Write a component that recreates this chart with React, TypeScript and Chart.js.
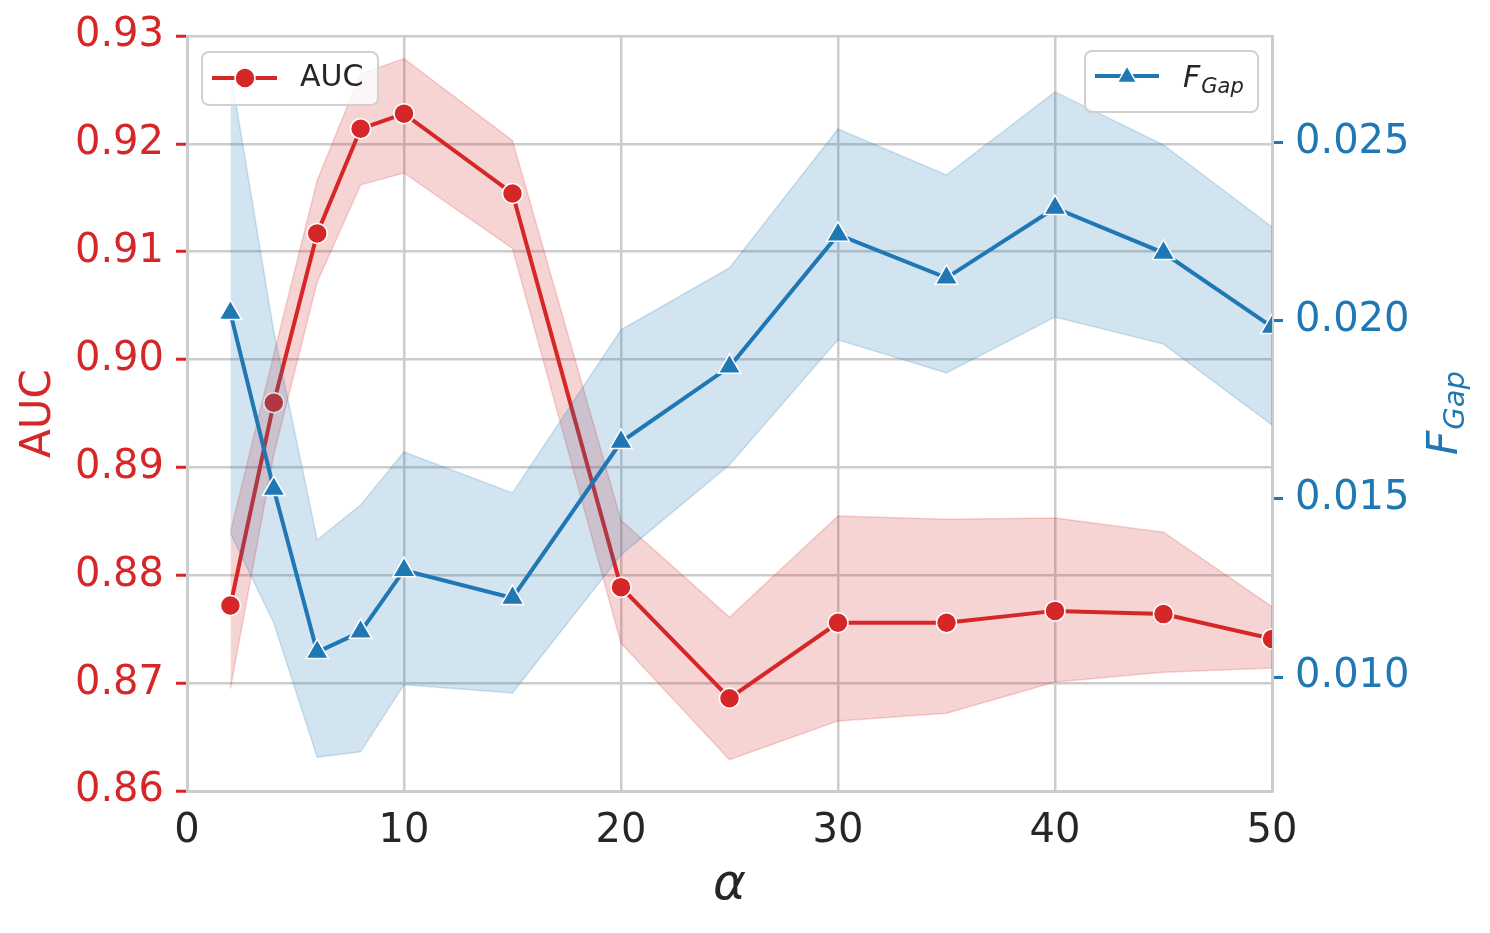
import { useEffect, useRef } from "react"
import { Chart, registerables } from "chart.js"

Chart.register(...registerables)

const RED = "#d62728"
const BLUE = "#1f77b4"
const TEXT = "#262626"
const GRID = "#cccccc"
const FONT = '"DejaVu Sans", sans-serif'

// alpha values on the x axis
const alphas = [2, 4, 6, 8, 10, 15, 20, 25, 30, 35, 40, 45, 50]

// AUC (left axis) mean and band
const aucMean = [0.8772, 0.8960, 0.9117, 0.9214, 0.9228, 0.9154, 0.8789, 0.8686, 0.8756, 0.8756, 0.8767, 0.8764, 0.8741]
const aucUpper = [0.8840, 0.9005, 0.9166, 0.9265, 0.9279, 0.9203, 0.8851, 0.8761, 0.8855, 0.8852, 0.8853, 0.8840, 0.8771]
const aucLower = [0.8695, 0.8912, 0.9072, 0.9162, 0.9173, 0.9103, 0.8737, 0.8629, 0.8665, 0.8672, 0.8701, 0.8710, 0.8714]

// F_Gap (right axis) mean and band
const fgapMean = [0.02022, 0.01528, 0.01070, 0.01127, 0.01300, 0.01222, 0.01660, 0.01871, 0.02242, 0.02121, 0.02317, 0.02191, 0.01983]
const fgapUpper = [0.02705, 0.01970, 0.01385, 0.01483, 0.01632, 0.01517, 0.01975, 0.02149, 0.02539, 0.02410, 0.02643, 0.02494, 0.02264]
const fgapLower = [0.01404, 0.01152, 0.00775, 0.00790, 0.00978, 0.00955, 0.01343, 0.01596, 0.01947, 0.01854, 0.02011, 0.01935, 0.01708]

// tick labels
const xTicks = [0, 10, 20, 30, 40, 50]
const aucTicks = [0.86, 0.87, 0.88, 0.89, 0.90, 0.91, 0.92, 0.93]
const fgapTicks = [0.010, 0.015, 0.020, 0.025]

const pts = (ys: number[]) => alphas.map((x, i) => ({ x, y: ys[i] }))

function drawTriangle(ctx: CanvasRenderingContext2D, x: number, y: number, r: number) {
  ctx.beginPath()
  ctx.moveTo(x, y - r)
  ctx.lineTo(x - r * 0.866, y + r * 0.5)
  ctx.lineTo(x + r * 0.866, y + r * 0.5)
  ctx.closePath()
  ctx.fillStyle = BLUE
  ctx.fill()
  ctx.strokeStyle = "#fff"
  ctx.lineWidth = 1.5
  ctx.stroke()
}

function legendBox(ctx: CanvasRenderingContext2D, x: number, y: number, w: number, h: number) {
  ctx.beginPath()
  ctx.roundRect(x, y, w, h, 7)
  ctx.fillStyle = "rgba(255,255,255,0.8)"
  ctx.fill()
  ctx.strokeStyle = "#d0d0d0"
  ctx.lineWidth = 2
  ctx.stroke()
}

// axis titles and the two legends
const overlay = {
  id: "overlay",
  afterDraw(chart: Chart) {
    const ctx = chart.ctx
    const { left, right, top, bottom } = chart.chartArea
    const midY = (top + bottom) / 2

    ctx.save()
    // left title
    ctx.translate(left - 148, midY)
    ctx.rotate(-Math.PI / 2)
    ctx.font = `42px ${FONT}`
    ctx.fillStyle = RED
    ctx.textAlign = "center"
    ctx.textBaseline = "middle"
    ctx.fillText("AUC", 0, 0)
    ctx.restore()

    // right title F_Gap
    ctx.save()
    ctx.translate(right + 170, midY)
    ctx.rotate(-Math.PI / 2)
    ctx.fillStyle = BLUE
    ctx.textBaseline = "alphabetic"
    ctx.font = `italic 42px ${FONT}`
    const wF = ctx.measureText("F").width
    ctx.font = `italic 29px ${FONT}`
    const wG = ctx.measureText("Gap").width
    const sx = -(wF + wG) / 2
    ctx.font = `italic 42px ${FONT}`
    ctx.fillText("F", sx, 15)
    ctx.font = `italic 29px ${FONT}`
    ctx.fillText("Gap", sx + wF + 1, 22)
    ctx.restore()

    // x title
    ctx.save()
    ctx.font = `italic 50px ${FONT}`
    ctx.fillStyle = TEXT
    ctx.textAlign = "center"
    ctx.textBaseline = "middle"
    ctx.fillText("α", (left + right) / 2, 886)
    ctx.restore()

    // AUC legend
    ctx.save()
    legendBox(ctx, left + 15, top + 16, 176, 53)
    const ly = top + 42
    ctx.strokeStyle = RED
    ctx.lineWidth = 4
    ctx.beginPath()
    ctx.moveTo(left + 25, ly)
    ctx.lineTo(left + 90, ly)
    ctx.stroke()
    ctx.beginPath()
    ctx.arc(left + 58, ly, 10, 0, Math.PI * 2)
    ctx.fillStyle = RED
    ctx.fill()
    ctx.strokeStyle = "#fff"
    ctx.lineWidth = 1.5
    ctx.stroke()
    ctx.font = `30px ${FONT}`
    ctx.fillStyle = TEXT
    ctx.textBaseline = "middle"
    ctx.fillText("AUC", left + 113, ly)
    ctx.restore()

    // F_Gap legend
    ctx.save()
    legendBox(ctx, right - 187, top + 15, 173, 61)
    const ry = top + 40
    ctx.strokeStyle = BLUE
    ctx.lineWidth = 4
    ctx.beginPath()
    ctx.moveTo(right - 177, ry)
    ctx.lineTo(right - 113, ry)
    ctx.stroke()
    drawTriangle(ctx, right - 145, ry + 1, 11)
    ctx.fillStyle = TEXT
    ctx.textBaseline = "alphabetic"
    ctx.font = `italic 30px ${FONT}`
    ctx.fillText("F", right - 89, top + 51)
    const fw = ctx.measureText("F").width
    ctx.font = `italic 21px ${FONT}`
    ctx.fillText("Gap", right - 89 + fw + 1, top + 57)
    ctx.restore()
  },
}

export default function App() {
  const chartRef = useRef<HTMLCanvasElement>(null)
  const chartInstance = useRef<Chart | null>(null)

  useEffect(() => {
    if (!chartRef.current) return
    document.body.style.margin = "0"

    if (chartInstance.current) {
      chartInstance.current.destroy()
    }

    const ctx = chartRef.current.getContext("2d")
    if (!ctx) return

    const band = (color: string) => ({
      pointRadius: 0,
      borderWidth: 1.5,
      borderColor: color,
      tension: 0,
    })

    chartInstance.current = new Chart(ctx, {
      type: "line",
      data: {
        datasets: [
          {
            label: "aucLower",
            data: pts(aucLower),
            yAxisID: "y",
            fill: false,
            order: 3,
            ...band("rgba(214,39,40,0.2)"),
          },
          {
            label: "aucUpper",
            data: pts(aucUpper),
            yAxisID: "y",
            fill: "-1",
            backgroundColor: "rgba(214,39,40,0.2)",
            order: 3,
            ...band("rgba(214,39,40,0.2)"),
          },
          {
            label: "AUC",
            data: pts(aucMean),
            yAxisID: "y",
            borderColor: RED,
            backgroundColor: RED,
            borderWidth: 4,
            pointStyle: "circle",
            pointRadius: 10,
            pointBorderColor: "#fff",
            pointBorderWidth: 1.5,
            pointBackgroundColor: RED,
            fill: false,
            order: 2,
          },
          {
            label: "fgapLower",
            data: pts(fgapLower),
            yAxisID: "y1",
            fill: false,
            order: 1,
            ...band("rgba(31,119,180,0.2)"),
          },
          {
            label: "fgapUpper",
            data: pts(fgapUpper),
            yAxisID: "y1",
            fill: "-1",
            backgroundColor: "rgba(31,119,180,0.2)",
            order: 1,
            ...band("rgba(31,119,180,0.2)"),
          },
          {
            label: "F_Gap",
            data: pts(fgapMean),
            yAxisID: "y1",
            borderColor: BLUE,
            backgroundColor: BLUE,
            borderWidth: 4,
            pointStyle: "triangle",
            pointRadius: 13,
            pointBorderColor: "#fff",
            pointBorderWidth: 1.5,
            pointBackgroundColor: BLUE,
            fill: false,
            order: 0,
          },
        ],
      },
      options: {
        responsive: false,
        devicePixelRatio: 1,
        animation: false,
        layout: { padding: { top: 36, left: 0, right: 0, bottom: 0 } },
        plugins: {
          legend: { display: false },
          tooltip: { enabled: false },
        },
        scales: {
          x: {
            type: "linear",
            min: 0,
            max: 50,
            afterBuildTicks: (axis) => {
              axis.ticks = xTicks.map((v) => ({ value: v }))
            },
            afterFit: (scale) => {
              scale.height = 142
            },
            grid: { color: GRID, lineWidth: 2.5, drawTicks: false },
            border: { color: GRID, width: 3 },
            ticks: {
              color: TEXT,
              font: { family: FONT, size: 40 },
              padding: 17,
              maxRotation: 0,
            },
          },
          y: {
            type: "linear",
            position: "left",
            min: 0.86,
            max: 0.93,
            afterBuildTicks: (axis) => {
              axis.ticks = aucTicks.map((v) => ({ value: v }))
            },
            afterFit: (scale) => {
              scale.width = 187
            },
            grid: {
              color: GRID,
              lineWidth: 2.5,
              tickLength: 11,
              tickColor: RED,
              tickWidth: 3,
            },
            border: { color: GRID, width: 3 },
            ticks: {
              color: RED,
              font: { family: FONT, size: 40 },
              padding: 12,
              callback: (v) => Number(v).toFixed(2),
            },
          },
          y1: {
            type: "linear",
            position: "right",
            min: 0.0068,
            max: 0.028,
            afterBuildTicks: (axis) => {
              axis.ticks = fgapTicks.map((v) => ({ value: v }))
            },
            afterFit: (scale) => {
              scale.width = 218
            },
            grid: {
              drawOnChartArea: false,
              tickLength: 11,
              tickColor: BLUE,
              tickWidth: 3,
            },
            border: { color: GRID, width: 3 },
            ticks: {
              color: BLUE,
              font: { family: FONT, size: 40 },
              padding: 12,
              callback: (v) => Number(v).toFixed(3),
            },
          },
        },
      },
      plugins: [overlay],
    })

    return () => {
      if (chartInstance.current) {
        chartInstance.current.destroy()
        chartInstance.current = null
      }
    }
  }, [])

  return (
    <div style={{ width: 1490, height: 933, background: "#fff" }}>
      <canvas ref={chartRef} width={1490} height={933} />
    </div>
  )
}
